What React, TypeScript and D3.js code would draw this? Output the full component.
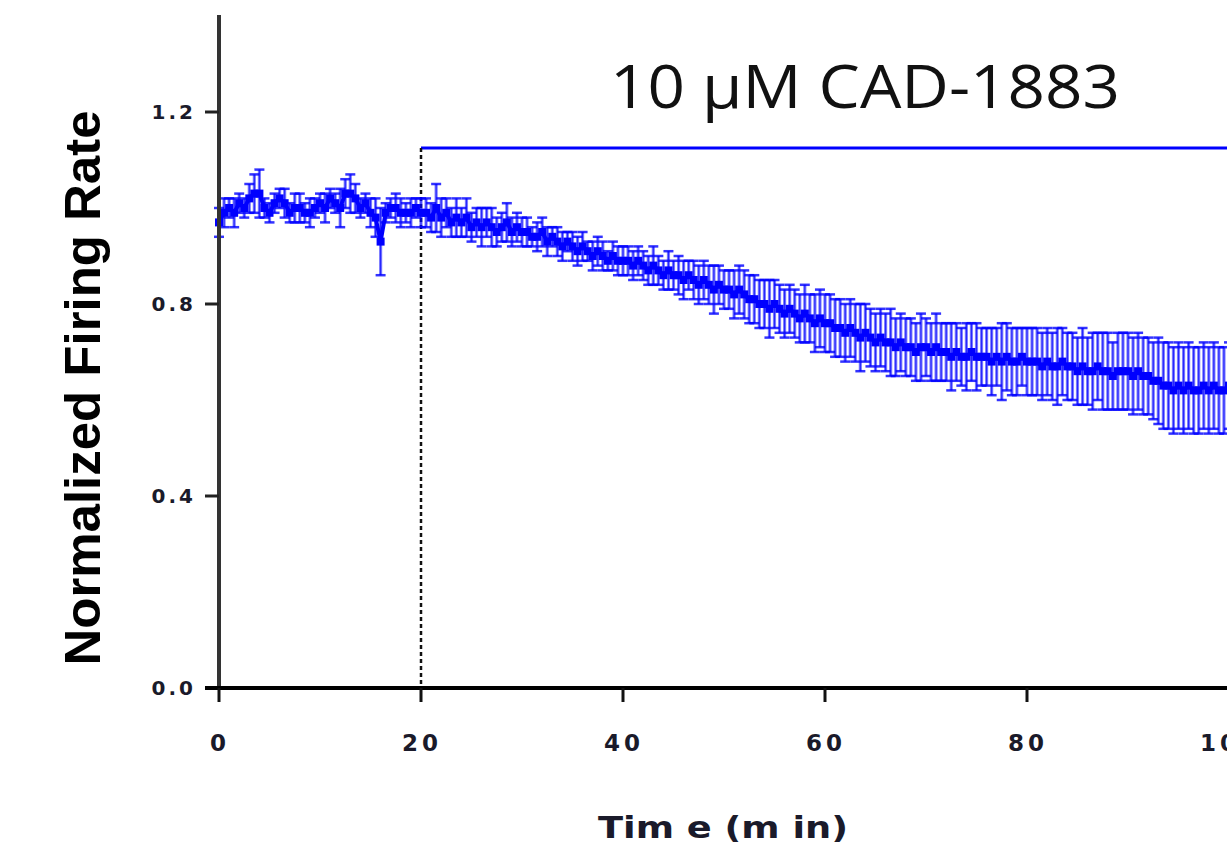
import React from "react";
import * as d3 from "d3";

// firing rate (normalized to baseline), one bin every 0.5 min
const binMinutes = 0.5;

const meanRate = [
  // 0 - 20 min baseline
  0.97, 0.99, 1.0, 0.99, 1.01, 1.0, 1.02, 1.03, 1.03, 1.0,
  0.99, 1.01, 1.02, 1.01, 0.99, 1.0, 1.0, 0.99, 0.99, 1.0,
  1.01, 1.0, 1.02, 1.01, 1.0, 1.03, 1.03, 1.02, 1.0, 1.01,
  0.99, 0.98, 0.93, 0.99, 1.0, 1.0, 0.99, 0.99, 0.99, 1.0,
  0.99,
  // 20 - 30
  0.99, 0.98, 1.0, 0.98, 0.99, 0.97, 0.98, 0.97, 0.98, 0.96,
  0.97, 0.96, 0.97, 0.96, 0.95, 0.96, 0.97, 0.95, 0.96, 0.95,
  // 30 - 40
  0.95, 0.94, 0.94, 0.95, 0.93, 0.94, 0.93, 0.92, 0.93, 0.92,
  0.91, 0.92, 0.91, 0.9, 0.91, 0.9, 0.89, 0.9, 0.89, 0.89,
  // 40 - 50
  0.89, 0.88, 0.89, 0.88, 0.87, 0.88, 0.87, 0.86, 0.87, 0.86,
  0.86, 0.85, 0.86, 0.85, 0.84, 0.85, 0.84, 0.83, 0.84, 0.83,
  // 50 - 60
  0.83, 0.82, 0.83, 0.82, 0.81, 0.81, 0.8, 0.8, 0.79, 0.8,
  0.79, 0.78, 0.79, 0.78, 0.77, 0.78, 0.77, 0.76, 0.77, 0.76,
  // 60 - 70
  0.76, 0.75, 0.75, 0.74, 0.75, 0.74, 0.73, 0.74, 0.73, 0.72,
  0.73, 0.72, 0.72, 0.71, 0.72, 0.71, 0.71, 0.7, 0.71, 0.71,
  // 70 - 80
  0.7, 0.71, 0.7, 0.7, 0.69, 0.7, 0.69, 0.69, 0.7, 0.69,
  0.69, 0.69, 0.68, 0.69, 0.68, 0.69, 0.68, 0.68, 0.69, 0.68,
  // 80 - 90
  0.68, 0.68, 0.67, 0.68, 0.67, 0.67, 0.68, 0.67, 0.67, 0.66,
  0.67, 0.66, 0.66, 0.67, 0.66, 0.66, 0.65, 0.66, 0.66, 0.66,
  // 90 - 100
  0.65, 0.66, 0.65, 0.65, 0.64, 0.64, 0.63, 0.63, 0.62, 0.63,
  0.62, 0.63, 0.62, 0.62, 0.63, 0.62, 0.63, 0.62, 0.62, 0.63,
];

const semRate = [
  0.03, 0.03, 0.02, 0.03, 0.02, 0.02, 0.03, 0.04, 0.05, 0.02,
  0.02, 0.02, 0.02, 0.03, 0.02, 0.03, 0.03, 0.02, 0.03, 0.02,
  0.02, 0.03, 0.02, 0.02, 0.04, 0.03, 0.04, 0.03, 0.02, 0.02,
  0.03, 0.04, 0.07, 0.02, 0.02, 0.03, 0.03, 0.02, 0.03, 0.02,
  0.03,
  0.03, 0.03, 0.05, 0.04, 0.03, 0.03, 0.04, 0.03, 0.04, 0.03,
  0.03, 0.04, 0.03, 0.04, 0.03, 0.03, 0.04, 0.03, 0.03, 0.03,
  0.03, 0.02, 0.03, 0.03, 0.03, 0.02, 0.03, 0.03, 0.02, 0.03,
  0.03, 0.03, 0.02, 0.03, 0.03, 0.03, 0.02, 0.03, 0.03, 0.03,
  0.03, 0.03, 0.03, 0.03, 0.03, 0.04, 0.03, 0.03, 0.04, 0.03,
  0.04, 0.04, 0.03, 0.04, 0.04, 0.04, 0.04, 0.05, 0.04, 0.04,
  0.04, 0.05, 0.05, 0.05, 0.05, 0.05, 0.05, 0.05, 0.06, 0.05,
  0.05, 0.05, 0.05, 0.05, 0.05, 0.06, 0.05, 0.06, 0.06, 0.06,
  0.06, 0.06, 0.06, 0.06, 0.06, 0.06, 0.07, 0.06, 0.06, 0.06,
  0.06, 0.06, 0.07, 0.06, 0.06, 0.06, 0.06, 0.06, 0.07, 0.06,
  0.06, 0.07, 0.06, 0.06, 0.07, 0.06, 0.06, 0.07, 0.06, 0.07,
  0.06, 0.06, 0.07, 0.06, 0.08, 0.07, 0.07, 0.07, 0.06, 0.07,
  0.07, 0.07, 0.07, 0.07, 0.07, 0.08, 0.07, 0.07, 0.07, 0.07,
  0.08, 0.07, 0.08, 0.07, 0.08, 0.08, 0.07, 0.08, 0.08, 0.08,
  0.08, 0.08, 0.08, 0.08, 0.08, 0.09, 0.09, 0.09, 0.09, 0.09,
  0.09, 0.09, 0.09, 0.09, 0.09, 0.09, 0.09, 0.09, 0.09, 0.09,
];

const xTicks = [0, 20, 40, 60, 80, 100];
const yTicks = [0, 0.4, 0.8, 1.2];
const drugStart = 20;
const drugLabel = "10 \u03bcM CAD-1883";

const W = 1227;
const H = 847;
const blue = "#0000ff";
const tickFont = "'DejaVu Sans', Verdana, sans-serif";

export default function App() {
  const x = d3.scaleLinear().domain([0, 100]).range([219, 1229]);
  const y = d3.scaleLinear().domain([0, 1.2]).range([688, 112]);

  const pts = meanRate.map((m, i) => ({ t: i * binMinutes, m, e: semRate[i] }));
  const capW = 5;

  return (
    <svg width={W} height={H} style={{ position: "absolute", left: 0, top: 0, background: "#fff" }}>
      {/* treatment bar + label */}
      <line x1={x(drugStart)} x2={W} y1={148} y2={148} stroke={blue} strokeWidth={3} />
      <text
        x={865}
        y={108}
        textAnchor="middle"
        fontFamily="'Open Sans', 'Noto Sans', sans-serif"
        fontSize={60}
        textLength={510}
        lengthAdjust="spacingAndGlyphs"
        fill="#111"
      >
        {drugLabel}
      </text>

      {/* drug onset */}
      <line
        x1={x(drugStart)}
        x2={x(drugStart)}
        y1={148}
        y2={y(0)}
        stroke="#111"
        strokeWidth={2.5}
        strokeDasharray="4,3"
      />

      {/* error bars */}
      <g stroke={blue}>
        {pts.map((p, i) => (
          <g key={i}>
            <line x1={x(p.t)} x2={x(p.t)} y1={y(p.m - p.e)} y2={y(p.m + p.e)} strokeWidth={3.2} strokeOpacity={0.5} />
            <line x1={x(p.t)} x2={x(p.t)} y1={y(p.m - p.e)} y2={y(p.m + p.e)} strokeWidth={1.2} strokeOpacity={0.7} />
            <line x1={x(p.t) - capW} x2={x(p.t) + capW} y1={y(p.m + p.e)} y2={y(p.m + p.e)} strokeWidth={2.5} strokeOpacity={0.8} />
            <line x1={x(p.t) - capW} x2={x(p.t) + capW} y1={y(p.m - p.e)} y2={y(p.m - p.e)} strokeWidth={2.5} strokeOpacity={0.8} />
          </g>
        ))}
      </g>
      <path
        d={d3.line<any>().x((p) => x(p.t)).y((p) => y(p.m))(pts) || ""}
        fill="none"
        stroke={blue}
        strokeWidth={4}
      />
      <g fill={blue}>
        {pts.map((p, i) => (
          <rect key={i} x={x(p.t) - 4} y={y(p.m) - 4} width={8} height={8} />
        ))}
      </g>

      {/* y axis */}
      <line x1={219} x2={219} y1={15} y2={y(0)} stroke="#333" strokeWidth={4} />
      {yTicks.map((t) => (
        <g key={t}>
          <line x1={205} x2={219} y1={y(t)} y2={y(t)} stroke="#222" strokeWidth={3} />
          <text
            x={196}
            y={y(t) + 7}
            textAnchor="end"
            fontFamily={tickFont}
            fontWeight="bold"
            fontSize={20}
            letterSpacing={3}
            fill="#1a1a2a"
          >
            {t.toFixed(1)}
          </text>
        </g>
      ))}

      {/* x axis */}
      <line x1={205} x2={W} y1={y(0)} y2={y(0)} stroke="#000" strokeWidth={4} />
      {xTicks.map((t) => (
        <g key={t}>
          <line x1={x(t)} x2={x(t)} y1={y(0)} y2={y(0) + 14} stroke="#111" strokeWidth={3} />
          <text
            x={x(t) + 1}
            y={751}
            textAnchor="middle"
            fontFamily={tickFont}
            fontWeight="bold"
            fontSize={23}
            letterSpacing={4}
            fill="#1a1a2a"
          >
            {t}
          </text>
        </g>
      ))}

      {/* axis titles */}
      <text
        x={723}
        y={838}
        textAnchor="middle"
        fontFamily={tickFont}
        fontWeight="bold"
        fontSize={30}
        textLength={250}
        lengthAdjust="spacingAndGlyphs"
        fill="#1a1a2a"
      >
        Tim e (m in)
      </text>
      <text
        transform={`translate(100,388) rotate(-90)`}
        textAnchor="middle"
        fontFamily="'Liberation Sans', Arial, sans-serif"
        fontWeight="bold"
        fontSize={50}
        textLength={555}
        lengthAdjust="spacingAndGlyphs"
        fill="#000"
      >
        Normalized Firing Rate
      </text>
    </svg>
  );
}
